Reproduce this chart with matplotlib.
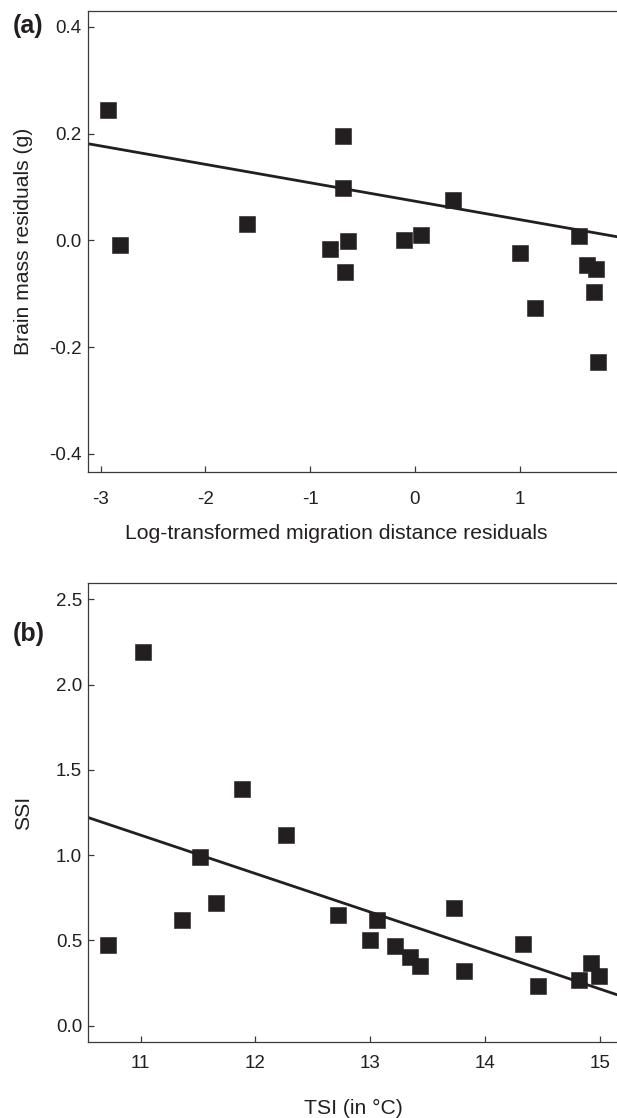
import matplotlib
matplotlib.use("Agg")
import matplotlib.pyplot as plt
import numpy as np

plt.rcParams['font.family'] = ['Liberation Sans', 'DejaVu Sans']
plt.rcParams['axes.unicode_minus'] = False

# panel (a): migration distance vs brain mass residuals
mig_resid = [-2.93, -2.81, -1.60, -0.69, -0.69, -0.81, -0.64, -0.67, -0.10, 0.06,
             0.36, 1.00, 1.15, 1.57, 1.64, 1.73, 1.71, 1.75]
brain_resid = [0.245, -0.009, 0.030, 0.195, 0.098, -0.017, -0.002, -0.060, 0.001, 0.010,
               0.075, -0.023, -0.127, 0.008, -0.046, -0.053, -0.096, -0.227]
fit_a = (-0.0345, 0.0733)  # slope, intercept

# panel (b): TSI vs SSI
tsi = [11.02, 11.88, 12.27, 11.52, 11.66, 11.36, 10.72, 12.72, 13.06, 13.00,
       13.22, 13.35, 13.43, 13.73, 13.82, 14.33, 14.46, 14.82, 14.92, 14.99]
ssi = [2.19, 1.39, 1.12, 0.99, 0.72, 0.62, 0.47, 0.65, 0.62, 0.50,
       0.465, 0.40, 0.35, 0.69, 0.32, 0.48, 0.23, 0.27, 0.37, 0.29]
fit_b = (-0.2256, 3.599)

ink = '#231f20'
fig = plt.figure(figsize=(6.17, 11.18), dpi=100)
ax_a = fig.add_axes([0.1426, 0.5778, 0.8574, 0.4126])
ax_b = fig.add_axes([0.1431, 0.0677, 0.8569, 0.4111])

def style(ax, xpad):
    for s in ['top', 'left', 'bottom']:
        ax.spines[s].set_color('#3a3a3a')
        ax.spines[s].set_linewidth(0.9)
    ax.spines['right'].set_visible(False)
    ax.tick_params(axis='both', direction='in', length=4, width=0.9,
                   color='#3a3a3a', labelsize=13.5, labelcolor=ink)
    ax.tick_params(axis='y', pad=4.5)
    ax.tick_params(axis='x', pad=xpad)

# (a)
ax = ax_a
ax.set_xlim(-3.12, 1.93)
ax.set_ylim(-0.434, 0.43)
xs = np.array(ax.get_xlim())
ax.plot(xs, fit_a[0] * xs + fit_a[1], color=ink, lw=2.0, zorder=2)
ax.plot(mig_resid, brain_resid, 's', color=ink, markersize=11.5,
        markeredgecolor=ink, markeredgewidth=0.4, zorder=3, clip_on=False)
ax.set_xticks([-3, -2, -1, 0, 1])
ax.set_yticks([-0.4, -0.2, 0.0, 0.2, 0.4])
ax.set_yticklabels(['-0.4', '-0.2', '0.0', '0.2', '0.4'])
style(ax, 13.5)
ax.set_xlabel('Log-transformed migration distance residuals', fontsize=15.2, color=ink)
ax.xaxis.set_label_coords(0.469, -0.113)
ax.set_ylabel('Brain mass residuals (g)', fontsize=15.2, color=ink)
ax.yaxis.set_label_coords(-0.104, 0.5)
fig.text(28.5 / 617, 1 - 25.5 / 1118, '(a)', fontsize=18, fontweight='bold',
         color=ink, ha='center', va='center')

# (b)
ax = ax_b
ax.set_xlim(10.544, 15.15)
ax.set_ylim(-0.098, 2.598)
xs = np.array(ax.get_xlim())
ax.plot(xs, fit_b[0] * xs + fit_b[1], color=ink, lw=2.0, zorder=2)
ax.plot(tsi, ssi, 's', color=ink, markersize=11.5,
        markeredgecolor=ink, markeredgewidth=0.4, zorder=3, clip_on=False)
ax.set_xticks([11, 12, 13, 14, 15])
ax.set_yticks([0.0, 0.5, 1.0, 1.5, 2.0, 2.5])
ax.set_yticklabels(['0.0', '0.5', '1.0', '1.5', '2.0', '2.5'])
style(ax, 9.0)
ax.set_xlabel('TSI (in °C)', fontsize=15.2, color=ink)
ax.xaxis.set_label_coords(0.501, -0.124)
ax.set_ylabel('SSI', fontsize=15.2, color=ink)
ax.yaxis.set_label_coords(-0.104, 0.5)
fig.text(28.5 / 617, 1 - 634 / 1118, '(b)', fontsize=18, fontweight='bold',
         color=ink, ha='center', va='center')

fig.savefig('out.png', dpi=100)
